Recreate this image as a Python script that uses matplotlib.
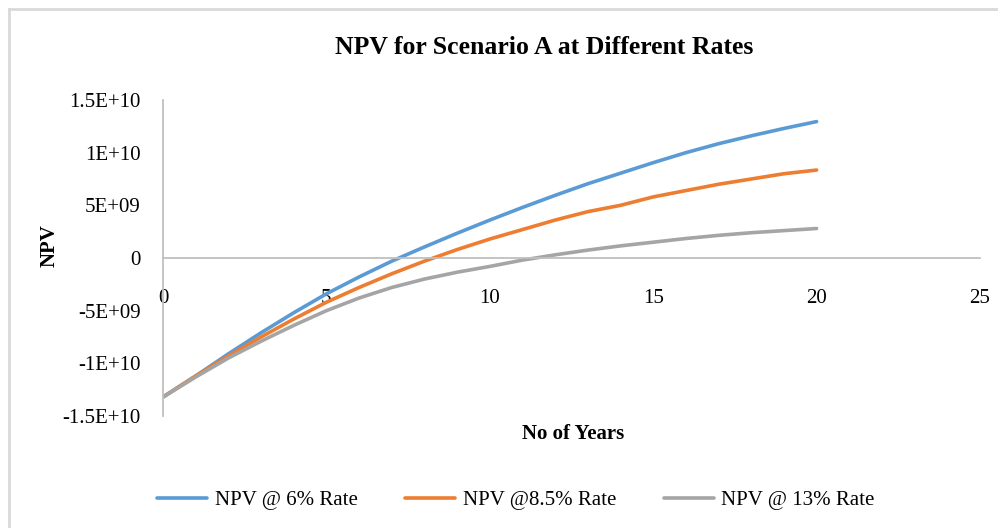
import matplotlib
matplotlib.use('Agg')
import matplotlib.pyplot as plt
from matplotlib.lines import Line2D

plt.rcParams['font.family'] = ['Liberation Serif', 'DejaVu Serif']

years = list(range(0, 21))
# NPV in units of 1E9
npv6 = [-13.2, -11.2, -9.1, -7.1, -5.2, -3.4, -1.8, -0.3, 1.05, 2.35, 3.6,
        4.8, 5.95, 7.05, 8.05, 9.05, 10.0, 10.85, 11.6, 12.3, 12.95]
npv85 = [-13.2, -11.2, -9.3, -7.5, -5.8, -4.2, -2.8, -1.5, -0.3, 0.8, 1.8,
         2.7, 3.6, 4.4, 5.0, 5.8, 6.4, 7.0, 7.5, 8.0, 8.35]
npv13 = [-13.2, -11.3, -9.5, -7.9, -6.4, -5.0, -3.8, -2.8, -2.0, -1.35, -0.8,
         -0.2, 0.3, 0.75, 1.15, 1.5, 1.85, 2.15, 2.4, 2.6, 2.8]

labels = ['NPV @ 6% Rate', 'NPV @8.5% Rate', 'NPV @ 13% Rate']
colors = ['#5B9BD5', '#ED7D31', '#A5A5A5']

ytick_vals = [-1.5e10, -1e10, -5e9, 0, 5e9, 1e10, 1.5e10]
ytick_labels = ['-1.5E+10', '-1E+10', '-5E+09', '0', '5E+09', '1E+10', '1.5E+10']
xtick_vals = [0, 5, 10, 15, 20, 25]

fig = plt.figure(figsize=(9.98, 5.28), dpi=100)
ax = fig.add_axes([163 / 998, 1 - 416 / 528, (980 - 163) / 998, (416 - 100) / 528])

for vals, lab, col in zip([npv6, npv85, npv13], labels, colors):
    ax.plot(years, [v * 1e9 for v in vals], color=col, lw=2.6, label=lab,
            solid_capstyle='round')

ax.set_xlim(0, 25)
ax.set_ylim(-1.5e10, 1.5e10)
ax.set_xticks(xtick_vals)
ax.set_yticks(ytick_vals)
ax.set_yticklabels(ytick_labels)

for s in ['top', 'right']:
    ax.spines[s].set_visible(False)
ax.spines['bottom'].set_position(('data', 0))
for s in ['left', 'bottom']:
    ax.spines[s].set_color('#BFBFBF')
    ax.spines[s].set_linewidth(1.3)
ax.tick_params(axis='x', length=0, pad=22, labelsize=15)
ax.tick_params(axis='y', length=0, pad=16, labelsize=15)

fig.text(544 / 998, 1 - 47 / 528, 'NPV for Scenario A at Different Rates',
         ha='center', va='center', fontsize=18.5, fontweight='bold')
fig.text(573 / 998, 1 - 434 / 528, 'No of Years', ha='center', va='center',
         fontsize=15, fontweight='bold')
fig.text(50 / 998, 1 - 246 / 528, 'NPV', ha='center', va='center',
         fontsize=15, fontweight='bold', rotation=90)

fig.legend(loc='center', bbox_to_anchor=(516 / 998, 1 - 500 / 528), ncol=3,
           frameon=False, fontsize=15, handlelength=2.4, handletextpad=0.35,
           columnspacing=2.3)

# chart area border
fig.add_artist(Line2D([9 / 998, 1], [1 - 9 / 528] * 2, transform=fig.transFigure,
                      color='#D9D9D9', lw=2))
fig.add_artist(Line2D([9 / 998] * 2, [0, 1 - 9 / 528], transform=fig.transFigure,
                      color='#D9D9D9', lw=2))

fig.savefig('out.png', dpi=100)
